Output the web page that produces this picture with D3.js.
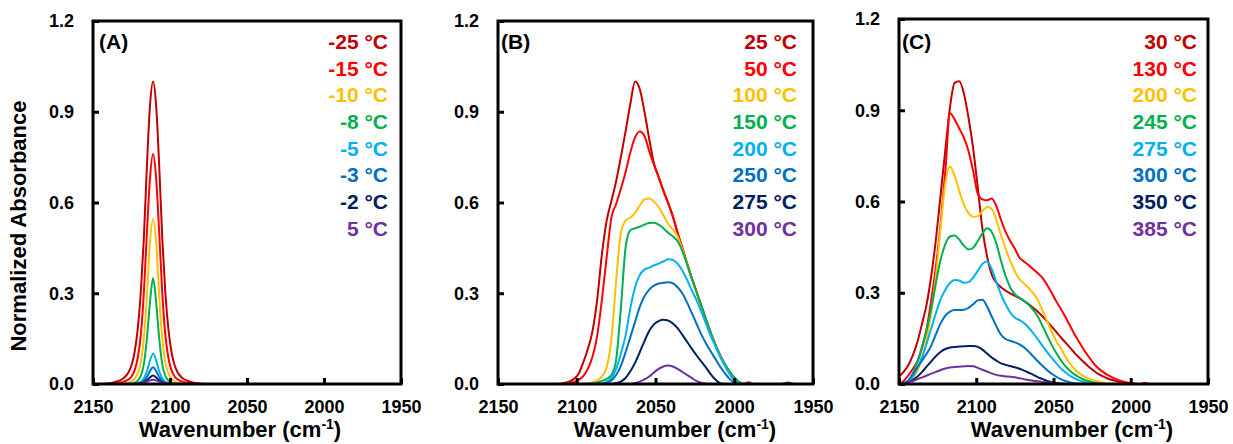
<!DOCTYPE html>
<html>
<head>
<meta charset="utf-8">
<script src="https://cdn.jsdelivr.net/npm/d3@7"></script>
<style>
  body { margin: 0; background: #fff; }
  svg { display: block; font-family: "Liberation Sans", Arial, sans-serif; font-weight: bold; }
</style>
</head>
<body>
<svg id="chart" width="1233" height="444"></svg>
<script>
// ---- data ----
const colors = ['#C00000', '#FF0000', '#FFC000', '#00B050', '#00B0F0', '#0070C0', '#002060', '#7030A0']
const xTicks = [2150, 2100, 2050, 2000, 1950]
const yTicks = [0, 0.3, 0.6, 0.9, 1.2]

// (A)
const labelsA = ['-25 °C', '-15 °C', '-10 °C', '-8 °C', '-5 °C', '-3 °C', '-2 °C', '5 °C']
const wnA = [2150, 2146, 2138, 2134, 2130, 2127, 2125, 2123, 2121, 2119, 2117, 2115, 2113, 2111, 2109, 2107, 2105, 2103, 2101, 2099, 2097, 2095, 2092, 2088, 2084, 2076, 2060, 2000, 1950]
const absA = [
  [0, 0, 0.003, 0.009, 0.02, 0.038, 0.062, 0.105, 0.18, 0.30, 0.48, 0.72, 0.92, 1.0, 0.92, 0.72, 0.48, 0.30, 0.18, 0.105, 0.062, 0.038, 0.02, 0.009, 0.003, 0, 0, 0, 0],
  [0, 0, 0.001, 0.003, 0.008, 0.015, 0.025, 0.045, 0.085, 0.16, 0.30, 0.50, 0.68, 0.76, 0.68, 0.50, 0.30, 0.16, 0.085, 0.045, 0.025, 0.015, 0.008, 0.003, 0.001, 0, 0, 0, 0],
  [0, 0, 0, 0, 0.001, 0.004, 0.008, 0.017, 0.035, 0.07, 0.15, 0.29, 0.47, 0.545, 0.47, 0.29, 0.15, 0.07, 0.035, 0.017, 0.008, 0.004, 0.001, 0, 0, 0, 0, 0, 0],
  [0, 0, 0, 0, 0, 0, 0.001, 0.004, 0.011, 0.027, 0.065, 0.15, 0.27, 0.35, 0.27, 0.15, 0.065, 0.027, 0.011, 0.004, 0.001, 0, 0, 0, 0, 0, 0, 0, 0],
  [0, 0, 0, 0, 0, 0, 0, 0, 0.002, 0.007, 0.018, 0.042, 0.078, 0.10, 0.078, 0.042, 0.018, 0.007, 0.002, 0, 0, 0, 0, 0, 0, 0, 0, 0, 0],
  [0, 0, 0, 0, 0, 0, 0, 0, 0.001, 0.004, 0.01, 0.023, 0.043, 0.055, 0.043, 0.023, 0.01, 0.004, 0.001, 0, 0, 0, 0, 0, 0, 0, 0, 0, 0],
  [0, 0, 0, 0, 0, 0, 0, 0, 0, 0.002, 0.005, 0.012, 0.022, 0.028, 0.022, 0.012, 0.005, 0.002, 0, 0, 0, 0, 0, 0, 0, 0, 0, 0, 0],
  [0, 0, 0, 0, 0, 0, 0, 0, 0.001, 0.003, 0.005, 0.008, 0.012, 0.014, 0.012, 0.008, 0.005, 0.003, 0.001, 0, 0, 0, 0, 0, 0, 0, 0, 0, 0]
]

// (B)
const labelsB = ['25 °C', '50 °C', '100 °C', '150 °C', '200 °C', '250 °C', '275 °C', '300 °C']
const wnB = [2150, 2112, 2108, 2105, 2102, 2099, 2096, 2093, 2090, 2087, 2084, 2081, 2078, 2075, 2072, 2069, 2066, 2063, 2060, 2057, 2054, 2051, 2048, 2045, 2042, 2039, 2036, 2033, 2030, 2027, 2024, 2021, 2018, 2015, 2012, 2009, 2006, 2003, 2000, 1997, 1994, 1991, 1988, 1970, 1966, 1962, 1950]
const absB = [
  [0, 0, 0.003, 0.008, 0.016, 0.032, 0.07, 0.115, 0.175, 0.28, 0.43, 0.54, 0.605, 0.67, 0.75, 0.835, 0.925, 1.0, 0.975, 0.9, 0.81, 0.73, 0.685, 0.64, 0.6, 0.555, 0.5, 0.45, 0.4, 0.35, 0.305, 0.26, 0.215, 0.17, 0.13, 0.095, 0.065, 0.04, 0.02, 0.006, 0, 0, 0, 0, 0, 0, 0],
  [0, 0, 0, 0.003, 0.006, 0.013, 0.025, 0.05, 0.09, 0.16, 0.28, 0.42, 0.55, 0.595, 0.645, 0.70, 0.765, 0.815, 0.835, 0.82, 0.77, 0.725, 0.683, 0.638, 0.598, 0.553, 0.5, 0.45, 0.4, 0.35, 0.305, 0.26, 0.215, 0.17, 0.13, 0.095, 0.065, 0.04, 0.02, 0.006, 0, 0, 0, 0, 0, 0, 0],
  [0, 0, 0, 0, 0, 0, 0, 0.002, 0.006, 0.012, 0.025, 0.055, 0.15, 0.34, 0.5, 0.54, 0.55, 0.565, 0.59, 0.61, 0.613, 0.603, 0.585, 0.558, 0.53, 0.51, 0.488, 0.445, 0.398, 0.348, 0.302, 0.257, 0.212, 0.167, 0.127, 0.092, 0.062, 0.037, 0.017, 0.004, 0, 0, 0, 0, 0, 0, 0],
  [0, 0, 0, 0, 0, 0, 0, 0, 0.002, 0.005, 0.01, 0.017, 0.03, 0.08, 0.25, 0.45, 0.508, 0.515, 0.52, 0.527, 0.532, 0.533, 0.527, 0.515, 0.5, 0.488, 0.472, 0.44, 0.396, 0.35, 0.305, 0.26, 0.215, 0.17, 0.13, 0.095, 0.066, 0.041, 0.02, 0.007, 0.001, 0, 0, 0, 0, 0, 0],
  [0, 0, 0, 0, 0, 0, 0, 0, 0, 0, 0.002, 0.008, 0.02, 0.05, 0.1, 0.16, 0.25, 0.32, 0.36, 0.378, 0.385, 0.392, 0.398, 0.405, 0.412, 0.41, 0.398, 0.375, 0.345, 0.31, 0.278, 0.24, 0.2, 0.16, 0.125, 0.09, 0.06, 0.033, 0.012, 0.002, 0, 0, 0, 0, 0, 0, 0],
  [0, 0, 0, 0, 0, 0, 0, 0, 0, 0, 0, 0.003, 0.012, 0.03, 0.06, 0.105, 0.155, 0.205, 0.255, 0.29, 0.312, 0.325, 0.332, 0.335, 0.336, 0.333, 0.32, 0.3, 0.27, 0.235, 0.2, 0.165, 0.135, 0.108, 0.083, 0.058, 0.036, 0.017, 0.005, 0, 0, 0, 0, 0, 0, 0, 0],
  [0, 0, 0, 0, 0, 0, 0, 0, 0, 0, 0, 0, 0, 0.003, 0.008, 0.02, 0.042, 0.07, 0.105, 0.142, 0.175, 0.197, 0.208, 0.212, 0.21, 0.2, 0.185, 0.163, 0.14, 0.117, 0.095, 0.075, 0.055, 0.033, 0.015, 0.003, 0, 0, 0, 0, 0, 0, 0, 0, 0, 0, 0],
  [0, 0, 0, 0, 0, 0, 0, 0, 0, 0, 0, 0, 0, 0, 0, 0, 0, 0.003, 0.008, 0.015, 0.025, 0.038, 0.05, 0.058, 0.061, 0.058, 0.05, 0.04, 0.03, 0.02, 0.01, 0.004, 0.001, 0, 0, 0, 0, 0, 0, 0, 0, 0.006, 0, 0, 0.005, 0, 0]
]

// (C)
const labelsC = ['30 °C', '130 °C', '200 °C', '245 °C', '275 °C', '300 °C', '350 °C', '385 °C']
const wnC = [2150, 2147, 2144, 2141, 2138, 2135, 2132, 2129, 2126, 2123, 2120, 2117, 2114, 2111, 2108, 2105, 2102, 2099, 2096, 2093, 2090, 2087, 2084, 2081, 2078, 2075, 2072, 2069, 2066, 2063, 2060, 2057, 2054, 2051, 2048, 2045, 2042, 2039, 2036, 2033, 2030, 2027, 2024, 2021, 2018, 2015, 2012, 2009, 2006, 2003, 2000, 1997, 1994, 1991, 1988, 1985, 1950]
const absC = [
  [0.025, 0.04, 0.062, 0.095, 0.14, 0.2, 0.265, 0.36, 0.48, 0.625, 0.77, 0.91, 0.99, 0.995, 0.955, 0.875, 0.775, 0.645, 0.51, 0.42, 0.36, 0.333, 0.318, 0.307, 0.298, 0.29, 0.282, 0.273, 0.262, 0.25, 0.237, 0.222, 0.205, 0.188, 0.17, 0.152, 0.135, 0.118, 0.1, 0.085, 0.07, 0.056, 0.044, 0.033, 0.025, 0.018, 0.013, 0.009, 0.005, 0.002, 0, 0, 0, 0, 0, 0, 0],
  [0, 0.01, 0.028, 0.05, 0.075, 0.12, 0.185, 0.28, 0.39, 0.53, 0.7, 0.89, 0.87, 0.84, 0.81, 0.765, 0.70, 0.625, 0.607, 0.604, 0.61, 0.585, 0.54, 0.5, 0.47, 0.445, 0.415, 0.402, 0.39, 0.377, 0.363, 0.348, 0.325, 0.298, 0.27, 0.245, 0.218, 0.188, 0.16, 0.135, 0.11, 0.088, 0.068, 0.052, 0.04, 0.03, 0.022, 0.015, 0.01, 0.006, 0.003, 0.001, 0, 0.004, 0, 0, 0],
  [0, 0.002, 0.008, 0.02, 0.045, 0.085, 0.15, 0.24, 0.36, 0.52, 0.66, 0.715, 0.685, 0.635, 0.59, 0.562, 0.55, 0.552, 0.568, 0.582, 0.575, 0.54, 0.49, 0.445, 0.405, 0.37, 0.345, 0.33, 0.315, 0.298, 0.275, 0.24, 0.205, 0.17, 0.14, 0.115, 0.088, 0.065, 0.047, 0.034, 0.024, 0.017, 0.012, 0.008, 0.004, 0.002, 0, 0, 0, 0, 0, 0, 0, 0, 0, 0, 0],
  [0, 0.002, 0.01, 0.035, 0.075, 0.125, 0.18, 0.25, 0.335, 0.41, 0.46, 0.485, 0.488, 0.475, 0.455, 0.442, 0.448, 0.47, 0.495, 0.512, 0.5, 0.462, 0.405, 0.355, 0.318, 0.295, 0.283, 0.272, 0.26, 0.243, 0.22, 0.19, 0.158, 0.127, 0.1, 0.077, 0.057, 0.042, 0.03, 0.021, 0.014, 0.009, 0.005, 0.002, 0, 0, 0, 0, 0, 0, 0, 0, 0, 0, 0, 0, 0],
  [0, 0.002, 0.008, 0.025, 0.055, 0.09, 0.135, 0.185, 0.235, 0.28, 0.31, 0.332, 0.342, 0.34, 0.333, 0.335, 0.35, 0.372, 0.395, 0.403, 0.378, 0.335, 0.295, 0.262, 0.235, 0.218, 0.21, 0.2, 0.185, 0.166, 0.146, 0.125, 0.104, 0.085, 0.067, 0.05, 0.037, 0.026, 0.018, 0.011, 0.006, 0.003, 0.001, 0, 0, 0, 0, 0, 0, 0, 0, 0, 0, 0, 0, 0, 0],
  [0, 0.003, 0.012, 0.033, 0.055, 0.078, 0.1, 0.128, 0.165, 0.2, 0.225, 0.238, 0.243, 0.243, 0.244, 0.25, 0.262, 0.275, 0.277, 0.255, 0.222, 0.19, 0.162, 0.148, 0.142, 0.137, 0.13, 0.12, 0.106, 0.09, 0.074, 0.059, 0.045, 0.033, 0.023, 0.015, 0.009, 0.005, 0.002, 0, 0, 0, 0, 0, 0, 0, 0, 0, 0, 0, 0, 0, 0, 0, 0, 0, 0],
  [0, 0.002, 0.006, 0.014, 0.025, 0.04, 0.058, 0.075, 0.092, 0.106, 0.115, 0.12, 0.122, 0.123, 0.124, 0.125, 0.125, 0.122, 0.113, 0.1, 0.087, 0.077, 0.068, 0.063, 0.059, 0.055, 0.05, 0.044, 0.037, 0.03, 0.022, 0.016, 0.01, 0.006, 0.003, 0.001, 0, 0, 0, 0, 0, 0, 0, 0, 0, 0, 0, 0, 0, 0, 0, 0, 0, 0, 0, 0, 0],
  [0, 0.002, 0.006, 0.01, 0.016, 0.022, 0.028, 0.034, 0.04, 0.046, 0.051, 0.054, 0.056, 0.057, 0.058, 0.059, 0.058, 0.053, 0.047, 0.041, 0.035, 0.03, 0.027, 0.025, 0.024, 0.022, 0.019, 0.016, 0.013, 0.011, 0.009, 0.007, 0.005, 0.003, 0.002, 0.001, 0, 0, 0, 0, 0, 0, 0, 0, 0, 0, 0, 0, 0, 0, 0, 0, 0, 0, 0, 0, 0]
]

// ---- layout ----
const bottom = 384
const panels = [
  { tag: '(A)', wn: wnA, abs: absA, labels: labelsA, left: 93, right: 401, top: 21, tagDx: 6, legendDx: -13, titleX: 240 },
  { tag: '(B)', wn: wnB, abs: absB, labels: labelsB, left: 498, right: 813, top: 21, tagDx: 3, legendDx: -16, titleX: 675 },
  { tag: '(C)', wn: wnC, abs: absC, labels: labelsC, left: 899, right: 1208, top: 19, tagDx: 3, legendDx: -11, titleX: 1072 }
]

const svg = d3.select('#chart')

svg.append('text')
  .attr('transform', 'translate(18,226) rotate(-90)')
  .attr('text-anchor', 'middle')
  .attr('dy', '0.35em')
  .attr('font-size', 22)
  .text('Normalized Absorbance')

panels.forEach((p, i) => drawPanel(p, i))

function drawPanel(p, i) {
  const x = d3.scaleLinear().domain([2150, 1950]).range([p.left, p.right])
  const y = d3.scaleLinear().domain([0, 1.2]).range([bottom, p.top])
  const g = svg.append('g')

  const clipId = 'clip' + i
  g.append('clipPath').attr('id', clipId)
    .append('rect')
      .attr('x', p.left).attr('y', p.top)
      .attr('width', p.right - p.left).attr('height', bottom - p.top)

  const line = d3.line()
    .x(d => x(d[0]))
    .y(d => y(d[1]))
    .curve(d3.curveMonotoneX)

  // spectra
  g.append('g').attr('clip-path', `url(#${clipId})`)
    .selectAll('path')
    .data(p.abs)
    .join('path')
      .attr('fill', 'none')
      .attr('stroke', (d, k) => colors[k])
      .attr('stroke-width', 2)
      .attr('d', vals => line(vals.map((v, k) => [p.wn[k], v])))

  // axes, ticks pointing inward
  const xAxis = g.append('g')
    .attr('transform', `translate(0,${bottom})`)
    .call(d3.axisBottom(x).tickValues(xTicks).tickFormat(d3.format('d'))
      .tickSizeInner(-6).tickSizeOuter(0).tickPadding(16))
  const yAxis = g.append('g')
    .attr('transform', `translate(${p.left},0)`)
    .call(d3.axisLeft(y).tickValues(yTicks).tickFormat(d3.format('.1f'))
      .tickSizeInner(-6).tickSizeOuter(0).tickPadding(19))
  ;[xAxis, yAxis].forEach(a => {
    a.attr('font-family', null).attr('font-size', 18)
    a.select('.domain').remove()
    a.selectAll('line').attr('stroke', '#000').attr('stroke-width', 3)
    a.selectAll('text').attr('fill', '#000')
  })

  // frame
  g.append('rect')
    .attr('x', p.left).attr('y', p.top)
    .attr('width', p.right - p.left).attr('height', bottom - p.top)
    .attr('fill', 'none').attr('stroke', '#000').attr('stroke-width', 3)

  // panel tag
  g.append('text')
    .attr('x', p.left + p.tagDx).attr('y', 42)
    .attr('dy', '0.35em')
    .attr('font-size', 21)
    .text(p.tag)

  // legend
  g.append('g').selectAll('text')
    .data(p.labels)
    .join('text')
      .attr('x', p.right + p.legendDx)
      .attr('y', (d, k) => 41.7 + k * 26.67)
      .attr('dy', '0.35em')
      .attr('text-anchor', 'end')
      .attr('font-size', 21)
      .attr('fill', (d, k) => colors[k])
      .text(d => d)

  // x title with superscript
  const title = g.append('text')
    .attr('x', p.titleX).attr('y', 429)
    .attr('dy', '0.35em')
    .attr('text-anchor', 'middle')
    .attr('font-size', 22)
  title.append('tspan').text('Wavenumber (cm')
  title.append('tspan').attr('dy', -8).attr('font-size', 14).text('-1')
  title.append('tspan').attr('dy', 8).text(')')
}
</script>
</body>
</html>
